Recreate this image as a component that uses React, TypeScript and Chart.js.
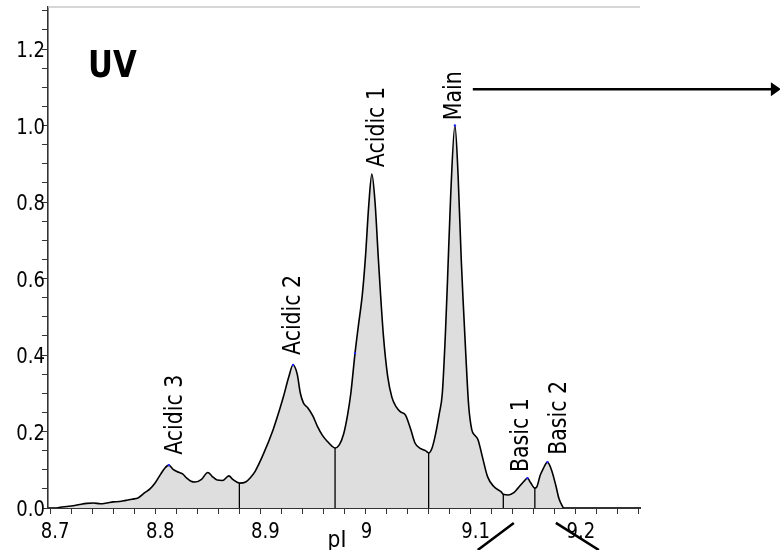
import React, { useEffect, useRef } from "react";
import { Chart, registerables } from "chart.js";
Chart.register(...registerables);

// ---- data ----
const pIValues = [
  8.7067, 8.7095, 8.716, 8.722, 8.728, 8.735, 8.741, 8.748, 8.754, 8.76, 8.766, 8.772, 8.778, 8.784,
  8.79, 8.795, 8.8, 8.805, 8.809, 8.813, 8.817, 8.821, 8.826, 8.83, 8.834, 8.838, 8.844, 8.85, 8.854,
  8.859, 8.864, 8.87, 8.874, 8.88, 8.886, 8.89, 8.895, 8.903, 8.912, 8.918, 8.922, 8.927, 8.931, 8.935,
  8.938, 8.941, 8.945, 8.95, 8.954, 8.959, 8.964, 8.968, 8.971, 8.975, 8.979, 8.983, 8.986, 8.99, 8.993,
  8.997, 9.0, 9.003, 9.006, 9.009, 9.012, 9.014, 9.017, 9.021, 9.025, 9.029, 9.033, 9.038, 9.043, 9.047,
  9.052, 9.057, 9.06, 9.063, 9.066, 9.07, 9.073, 9.076, 9.078, 9.081, 9.085, 9.088, 9.091, 9.093, 9.095,
  9.098, 9.101, 9.104, 9.107, 9.111, 9.116, 9.122, 9.129, 9.131, 9.136, 9.141, 9.145, 9.15, 9.154,
  9.157, 9.161, 9.163, 9.166, 9.169, 9.173, 9.177, 9.181, 9.184, 9.188,
];
const uvValues = [
  0, 0.002, 0.004, 0.006, 0.009, 0.012, 0.013, 0.011, 0.013, 0.016, 0.017, 0.02, 0.023, 0.027,
  0.04, 0.05, 0.066, 0.088, 0.104, 0.112, 0.101, 0.095, 0.089, 0.078, 0.07, 0.068, 0.075, 0.093, 0.083,
  0.073, 0.072, 0.084, 0.074, 0.065, 0.068, 0.078, 0.096, 0.142, 0.204, 0.255, 0.292, 0.343, 0.374, 0.35,
  0.3, 0.274, 0.262, 0.24, 0.215, 0.19, 0.173, 0.162, 0.157, 0.165, 0.192, 0.245, 0.3, 0.405, 0.473,
  0.56, 0.66, 0.79, 0.873, 0.8, 0.66, 0.57, 0.45, 0.345, 0.29, 0.265, 0.252, 0.243, 0.205, 0.17,
  0.156, 0.15, 0.144, 0.155, 0.186, 0.245, 0.3, 0.46, 0.6, 0.82, 1.0, 0.87, 0.65, 0.53, 0.42,
  0.27, 0.205, 0.19, 0.178, 0.135, 0.082, 0.056, 0.042, 0.036, 0.034, 0.04, 0.052, 0.068, 0.078,
  0.066, 0.052, 0.056, 0.085, 0.103, 0.12, 0.098, 0.058, 0.024, 0,
];

const dividerPI = [8.88, 8.971, 9.06, 9.131, 9.161];
const dividerUV = [0.065, 0.157, 0.144, 0.036, 0.052];

const peakNames = ["Acidic 3", "Acidic 2", "Acidic 1", "Main", "Basic 1", "Basic 2"];
const peakLabelPI = [8.8257, 8.9381, 9.0171, 9.0905, 9.1543, 9.1905];
const peakLabelUV = [0.139, 0.4, 0.891, 1.014, 0.094, 0.139];

const markerPI = [8.813, 8.931, 8.99, 9.085, 9.154, 9.173];
const markerUV = [0.112, 0.374, 0.405, 1.0, 0.078, 0.12];

const xTickValues = [8.7, 8.8, 8.9, 9.0, 9.1, 9.2];
const xTickLabels = ["8.7", "8.8", "8.9", "9", "9.1", "9.2"];
const yTickValues = [0, 0.2, 0.4, 0.6, 0.8, 1.0, 1.2];
const yTickLabels = ["0.0", "0.2", "0.4", "0.6", "0.8", "1.0", "1.2"];

const arrowPI = [9.102, 9.395];
const arrowUV = [1.095, 1.095];
const slashAPI = [9.1067, 9.141];
const slashBPI = [9.181, 9.2219];
const slashUV = [-0.11, -0.039];

const title = "UV";
const xTitle = "pI";

const X_MIN = 8.698;
const X_MAX = 9.261;
const Y_MIN = 0;
const Y_MAX = 1.31;

const FONT = "'DejaVu Sans', Verdana, sans-serif";

function drawText(
  ctx: CanvasRenderingContext2D,
  text: string,
  x: number,
  y: number,
  font: string,
  sx: number,
  rot: number,
  align: CanvasTextAlign,
  baseline: CanvasTextBaseline
) {
  ctx.save();
  ctx.translate(x, y);
  ctx.rotate(rot);
  ctx.scale(sx, 1);
  ctx.font = font;
  ctx.textAlign = align;
  ctx.textBaseline = baseline;
  ctx.fillStyle = "#000";
  ctx.fillText(text, 0, 0);
  ctx.restore();
}

const decorPlugin = {
  id: "decor",
  afterDraw(chart: any) {
    const ctx: CanvasRenderingContext2D = chart.ctx;
    const xs = chart.scales.x;
    const ys = chart.scales.y;
    const area = chart.chartArea;

    // top border line
    ctx.save();
    ctx.strokeStyle = "#c8c8c8";
    ctx.lineWidth = 1.5;
    ctx.beginPath();
    ctx.moveTo(area.left, area.top);
    ctx.lineTo(area.right, area.top);
    ctx.stroke();
    ctx.restore();

    // tick labels
    xTickValues.forEach((v, i) => {
      const lbl = xTickLabels[i];
      const px = xs.getPixelForValue(v) + (lbl.length > 1 ? 5 : 1);
      drawText(ctx, lbl, px, area.bottom + 30, `22px ${FONT}`, 0.82, 0, "center", "alphabetic");
    });
    yTickValues.forEach((v, i) => {
      const py = ys.getPixelForValue(v);
      drawText(ctx, yTickLabels[i], area.left - 3, py + 8, `22px ${FONT}`, 0.82, 0, "right", "alphabetic");
    });

    // axis title
    drawText(ctx, xTitle, (area.left + area.right) / 2 - 7, area.bottom + 39, `23px ${FONT}`, 0.88, 0, "center", "alphabetic");

    // chart title
    drawText(ctx, title, area.left + 40, area.top + 70, `bold 37px ${FONT}`, 0.83, 0, "left", "alphabetic");

    // peak labels
    peakNames.forEach((name, i) => {
      const px = xs.getPixelForValue(peakLabelPI[i]);
      const py = ys.getPixelForValue(peakLabelUV[i]);
      drawText(ctx, name, px, py, `25px ${FONT}`, 0.82, -Math.PI / 2, "left", "alphabetic");
    });

    // arrow
    const ax0 = xs.getPixelForValue(arrowPI[0]);
    const ax1 = xs.getPixelForValue(arrowPI[1]);
    const ay0 = ys.getPixelForValue(arrowUV[0]);
    const ay1 = ys.getPixelForValue(arrowUV[1]);
    ctx.save();
    ctx.strokeStyle = "#000";
    ctx.fillStyle = "#000";
    ctx.lineWidth = 2.5;
    ctx.beginPath();
    ctx.moveTo(ax0, ay0);
    ctx.lineTo(ax1 - 8, ay1);
    ctx.stroke();
    ctx.beginPath();
    ctx.moveTo(ax1, ay1);
    ctx.lineTo(ax1 - 10, ay1 - 7);
    ctx.lineTo(ax1 - 10, ay1 + 7);
    ctx.closePath();
    ctx.fill();

    // slashes below axis
    ctx.lineWidth = 2.5;
    ctx.beginPath();
    ctx.moveTo(xs.getPixelForValue(slashAPI[0]), ys.getPixelForValue(slashUV[0]));
    ctx.lineTo(xs.getPixelForValue(slashAPI[1]), ys.getPixelForValue(slashUV[1]));
    ctx.moveTo(xs.getPixelForValue(slashBPI[0]), ys.getPixelForValue(slashUV[1]));
    ctx.lineTo(xs.getPixelForValue(slashBPI[1]), ys.getPixelForValue(slashUV[0]));
    ctx.stroke();
    ctx.restore();
  },
};

export default function App() {
  const ref = useRef<HTMLCanvasElement | null>(null);

  useEffect(() => {
    if (!ref.current) return;
    const curve = pIValues.map((x, i) => ({ x, y: uvValues[i] }));
    const dividers = dividerPI.map((x, i) => ({
      type: "line" as const,
      data: [
        { x, y: 0 },
        { x, y: dividerUV[i] },
      ],
      borderColor: "#000",
      borderWidth: 1.3,
      pointRadius: 0,
      fill: false,
      tension: 0,
      order: 0,
    }));
    const markers = {
      type: "scatter" as const,
      data: markerPI.map((x, i) => ({ x, y: markerUV[i] })),
      backgroundColor: "#2020ff",
      borderWidth: 0,
      pointRadius: 1.2,
      order: 0,
    };

    const chart = new Chart(ref.current, {
      type: "line",
      data: {
        datasets: [
          ...(dividers as any[]),
          markers as any,
          {
            data: curve,
            borderColor: "#000",
            borderWidth: 1.6,
            backgroundColor: "#dedede",
            fill: "origin",
            pointRadius: 0,
            cubicInterpolationMode: "monotone",
            order: 1,
          },
        ],
      },
      options: {
        animation: false,
        responsive: false,
        devicePixelRatio: 1,
        layout: { padding: { top: 7, right: 140, left: 0, bottom: 0 } },
        plugins: { legend: { display: false }, tooltip: { enabled: false } },
        scales: {
          x: {
            type: "linear",
            min: X_MIN,
            max: X_MAX,
            position: "bottom",
            grid: {
              drawOnChartArea: false,
              drawTicks: true,
              tickLength: 6,
              color: "#000",
              tickColor: "#333",
              tickWidth: 1,
            },
            border: { color: "#333", width: 2 },
            ticks: { display: false },
            afterBuildTicks: (axis: any) => {
              const t: any[] = [];
              for (let k = 0; k <= 28; k++) t.push({ value: 8.7 + k * 0.02 });
              axis.ticks = t;
            },
            afterFit: (axis: any) => {
              axis.height = 42;
            },
          },
          y: {
            type: "linear",
            min: Y_MIN,
            max: Y_MAX,
            grid: {
              drawOnChartArea: false,
              drawTicks: true,
              tickLength: 6,
              color: "#000",
              tickColor: "#333",
              tickWidth: 1,
            },
            border: { color: "#333", width: 1.6 },
            ticks: { display: false },
            afterBuildTicks: (axis: any) => {
              const t: any[] = [];
              for (let k = 0; k <= 26; k++) t.push({ value: k * 0.05 });
              axis.ticks = t;
            },
            afterFit: (axis: any) => {
              axis.width = 48;
            },
          },
        },
      },
      plugins: [decorPlugin],
    });
    return () => chart.destroy();
  }, []);

  return (
    <div style={{ position: "absolute", left: 0, top: 0, width: 780, height: 550, background: "#fff" }}>
      <canvas ref={ref} width={780} height={550} style={{ width: 780, height: 550, display: "block" }} />
    </div>
  );
}
